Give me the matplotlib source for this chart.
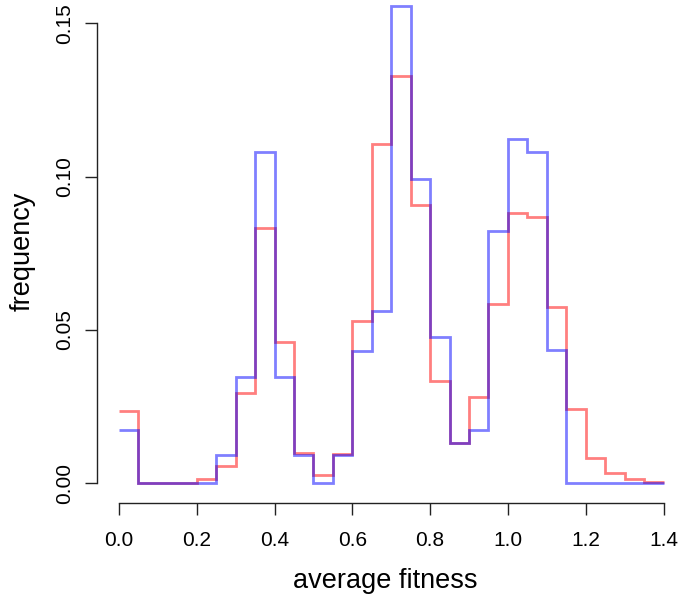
import matplotlib.pyplot as plt
import numpy as np

plt.rcParams['font.family'] = ['Liberation Sans', 'DejaVu Sans']

# histogram bins (width 0.05) and frequencies
bin_edges = np.round(np.arange(0, 1.4001, 0.05), 2)
freq_red = [0.0235, 0, 0, 0, 0.0013, 0.0056, 0.0296, 0.0833, 0.046, 0.0099,
            0.0026, 0.0096, 0.0529, 0.1108, 0.1328, 0.0906, 0.0332, 0.0132,
            0.0283, 0.0584, 0.0881, 0.0868, 0.0574, 0.0243, 0.0081, 0.0032,
            0.0015, 0.0004]
freq_blue = [0.0175, 0, 0, 0, 0, 0.0091, 0.0346, 0.1079, 0.0346, 0.0091,
             0, 0.0091, 0.0433, 0.0562, 0.1555, 0.0993, 0.0476, 0.0132,
             0.0175, 0.0822, 0.1122, 0.1079, 0.0435, 0, 0, 0, 0, 0]

x_ticks = [0.0, 0.2, 0.4, 0.6, 0.8, 1.0, 1.2, 1.4]
y_ticks = [0.00, 0.05, 0.10, 0.15]

W, H = 680, 597
fig = plt.figure(figsize=(W / 100, H / 100), dpi=100)
# plot region in pixels: left 96.7, right 673, top 0, bottom 503.3
ax = fig.add_axes([96.7 / W, 1 - 503.3 / H, (673 - 96.7) / W, 503.3 / H])

ax.stairs(freq_red, bin_edges, baseline=None, color=(1, 0, 0, 0.5), linewidth=2.0)
ax.stairs(freq_blue, bin_edges, baseline=None, color=(0, 0, 1, 0.5), linewidth=2.0)

ax.set_xlim(-0.0573, 1.4244)
ax.set_ylim(-0.00652, 0.1576)

for s in ["top", "right"]:
    ax.spines[s].set_visible(False)
ax.spines["left"].set_bounds(0, 0.15)
ax.spines["bottom"].set_bounds(0, 1.4)
for s in ["left", "bottom"]:
    ax.spines[s].set_linewidth(1.0)
    ax.spines[s].set_color("#222222")

ax.set_xticks(x_ticks)
ax.set_xticklabels([f"{v:.1f}" for v in x_ticks])
ax.set_yticks(y_ticks)
ax.set_yticklabels([f"{v:.2f}" for v in y_ticks], rotation=90, va="center")
ax.tick_params(axis="both", direction="out", length=8.6, width=1.0,
               color="#222222", labelsize=15)
ax.tick_params(axis="x", pad=11)
ax.tick_params(axis="y", pad=8)

ax.set_xlabel("average fitness", fontsize=19.5, labelpad=13)
ax.set_ylabel("frequency", fontsize=19.5, labelpad=14)

plt.savefig("out.png", dpi=100)
